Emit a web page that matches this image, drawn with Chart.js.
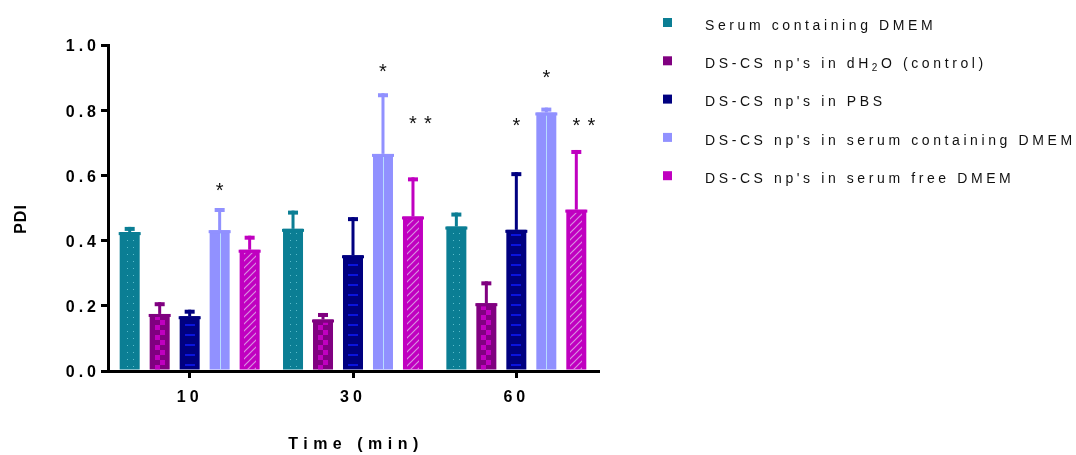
<!DOCTYPE html>
<html>
<head>
<meta charset="utf-8">
<script src="https://cdn.jsdelivr.net/npm/chart.js@4.4.0/dist/chart.umd.min.js"></script>
<style>
  html, body { margin: 0; padding: 0; background: #fff; }
</style>
</head>
<body>
<canvas id="pdiChart" width="1076" height="455"></canvas>
<script>
const timePoints = ['10', '30', '60'];
const seriesLabels = [
  'Serum containing DMEM',
  "DS-CS np's in dH\u2082O (control)",
  "DS-CS np's in PBS",
  "DS-CS np's in serum containing DMEM",
  "DS-CS np's in serum free DMEM"
];

// mean PDI per time point
const serumDmem   = [0.426, 0.436, 0.443];
const npWater     = [0.175, 0.158, 0.208];
const npPbs       = [0.168, 0.355, 0.433];
const npSerumDmem = [0.432, 0.666, 0.793];
const npSerumFree = [0.372, 0.474, 0.495];

// standard deviations (upper error bars)
const serumDmemSd   = [0.016, 0.056, 0.043];
const npWaterSd     = [0.036, 0.020, 0.067];
const npPbsSd       = [0.020, 0.117, 0.177];
const npSerumDmemSd = [0.068, 0.186, 0.015];
const npSerumFreeSd = [0.043, 0.120, 0.183];

// significance marks and the PDI level they sit at
const npPbsStars        = ['', '', '*'];
const npPbsStarAt       = [null, null, 0.767];
const npSerumDmemStars  = ['*', '*', '*'];
const npSerumDmemStarAt = [0.568, 0.933, 0.913];
const npSerumFreeStars  = ['', '**', '**'];
const npSerumFreeStarAt = [null, 0.772, 0.767];

const yTicks = [0, 0.2, 0.4, 0.6, 0.8, 1.0];

const colors = ['#0b7e94', '#800080', '#000080', '#9191ff', '#c000c0'];
const FONT = "'Liberation Sans', Arial, sans-serif";

function makeTile(w, h, paint) {
  const c = document.createElement('canvas');
  c.width = w; c.height = h;
  paint(c.getContext('2d'));
  return c;
}

// fill textures drawn inside each bar
const textures = [
  { inset: 4, tile: makeTile(6, 7, g => { g.fillStyle = '#5cbccb'; g.fillRect(1, 3, 1, 1); }) },
  { inset: 5, tile: makeTile(10, 10, g => {
      g.fillStyle = '#c000c0'; g.fillRect(0, 0, 5, 5); g.fillRect(5, 5, 5, 5);
    }) },
  { inset: 5, tile: makeTile(10, 10, g => { g.fillStyle = '#0a14dc'; g.fillRect(0, 4, 10, 2); }) },
  { inset: 0, tile: makeTile(20, 1, g => { g.fillStyle = '#b8dcff'; g.fillRect(10, 0, 1, 1); }) },
  { inset: 4, tile: makeTile(7, 7, g => {
      g.strokeStyle = '#d88ee0'; g.lineWidth = 1.2;
      g.beginPath();
      g.moveTo(0, 7); g.lineTo(7, 0);
      g.moveTo(-1, 1); g.lineTo(1, -1);
      g.moveTo(6, 8); g.lineTo(8, 6);
      g.stroke();
    }) }
];

const series = [
  { data: serumDmem, sd: serumDmemSd },
  { data: npWater, sd: npWaterSd },
  { data: npPbs, sd: npPbsSd, stars: npPbsStars, starAt: npPbsStarAt },
  { data: npSerumDmem, sd: npSerumDmemSd, stars: npSerumDmemStars, starAt: npSerumDmemStarAt },
  { data: npSerumFree, sd: npSerumFreeSd, stars: npSerumFreeStars, starAt: npSerumFreeStarAt }
];

// letter spacing for the axis tick labels
const spacing = {
  id: 'spacing',
  beforeUpdate(chart) { chart.ctx.letterSpacing = '4px'; },
  beforeDraw(chart) { chart.ctx.letterSpacing = '4px'; },
  afterDraw(chart) { chart.ctx.letterSpacing = '0px'; }
};

// textures, error bars and significance stars
const barExtras = {
  id: 'barExtras',
  afterDatasetsDraw(chart) {
    const ctx = chart.ctx;
    const yScale = chart.scales.y;
    ctx.save();
    ctx.letterSpacing = '0px';
    series.forEach((s, di) => {
      const meta = chart.getDatasetMeta(di);
      const tex = textures[di];
      const pattern = ctx.createPattern(tex.tile, 'repeat');
      meta.data.forEach((bar, i) => {
        const { x, y, base, width } = bar.getProps(['x', 'y', 'base', 'width'], true);
        const left = Math.round(x - width / 2);
        ctx.save();
        ctx.beginPath();
        ctx.rect(left + tex.inset, y + 3, width - 2 * tex.inset, base - y - 3);
        ctx.clip();
        ctx.translate(left, Math.round(base));
        ctx.fillStyle = pattern;
        ctx.fillRect(-10, -(base - y) - 20, width + 20, base - y + 30);
        ctx.restore();

        ctx.fillStyle = colors[di];
        ctx.fillRect(x - width / 2 - 1, y, width + 2, 3);

        const capY = yScale.getPixelForValue(s.data[i] + s.sd[i]);
        ctx.fillRect(x - 1.5, capY, 3, y - capY);
        ctx.fillRect(x - 5, capY, 10, 4);

        if (s.stars && s.stars[i]) {
          const sy = yScale.getPixelForValue(s.starAt[i]);
          ctx.fillStyle = '#111';
          ctx.font = '20px ' + FONT;
          ctx.textAlign = 'center';
          ctx.textBaseline = 'alphabetic';
          [...s.stars[i]].forEach((c, k) => ctx.fillText(c, x + k * 15, sy + 11));
        }
      });
    });
    ctx.restore();
  }
};

// axis titles and the legend column on the right
const annotations = {
  id: 'annotations',
  afterDraw(chart) {
    const ctx = chart.ctx;
    const area = chart.chartArea;
    ctx.save();
    ctx.fillStyle = '#000';
    ctx.textAlign = 'center';
    ctx.textBaseline = 'middle';

    ctx.font = 'bold 16px ' + FONT;
    ctx.letterSpacing = '5.5px';
    ctx.fillText('Time (min)', (area.left + area.right) / 2 + 3, chart.height - 10);

    ctx.save();
    ctx.translate(22, (area.top + area.bottom) / 2 + 11);
    ctx.rotate(-Math.PI / 2);
    ctx.font = 'bold 16px ' + FONT;
    ctx.letterSpacing = '1px';
    ctx.fillText('PDI', 0, 0);
    ctx.restore();

    ctx.textAlign = 'left';
    ctx.letterSpacing = '3.6px';
    chart.data.datasets.forEach((ds, i) => {
      const rowY = 26 + i * 38.3;
      ctx.fillStyle = colors[i];
      ctx.fillRect(663, rowY - 8, 9, 9);
      ctx.fillStyle = '#111';
      let tx = 705;
      for (const ch of ds.label) {
        if (ch === '\u2082') {
          ctx.font = '10px ' + FONT;
          ctx.fillText('2', tx, rowY + 4);
          tx += ctx.measureText('2').width;
        } else {
          ctx.font = '14px ' + FONT;
          ctx.fillText(ch, tx, rowY);
          tx += ctx.measureText(ch).width;
        }
      }
    });
    ctx.restore();
  }
};

new Chart(document.getElementById('pdiChart'), {
  type: 'bar',
  data: {
    labels: timePoints,
    datasets: series.map((s, i) => ({
      label: seriesLabels[i],
      data: s.data,
      backgroundColor: colors[i],
      borderWidth: 0,
      categoryPercentage: 0.918,
      barPercentage: 0.667
    }))
  },
  options: {
    responsive: false,
    devicePixelRatio: 1,
    animation: false,
    layout: { padding: { top: 45, right: 478, bottom: 0, left: 0 } },
    plugins: { legend: { display: false }, tooltip: { enabled: false } },
    scales: {
      x: {
        offset: true,
        grid: { offset: false, drawOnChartArea: false, tickLength: 7, lineWidth: 3, color: '#000' },
        border: { color: '#000', width: 3 },
        ticks: { color: '#000', padding: 10, font: { family: FONT, size: 16, weight: 'bold' } },
        afterFit(scale) { scale.height = 84; }
      },
      y: {
        min: 0,
        max: 1,
        afterBuildTicks(scale) { scale.ticks = yTicks.map(v => ({ value: v })); },
        grid: { drawOnChartArea: false, tickLength: 7, lineWidth: 3, color: '#000' },
        border: { color: '#000', width: 3 },
        ticks: {
          color: '#000',
          padding: 1,
          labelOffset: 2,
          font: { family: FONT, size: 16, weight: 'bold' },
          callback: v => v.toFixed(1)
        },
        afterFit(scale) { scale.width = 108; }
      }
    }
  },
  plugins: [spacing, barExtras, annotations]
});
</script>
</body>
</html>
